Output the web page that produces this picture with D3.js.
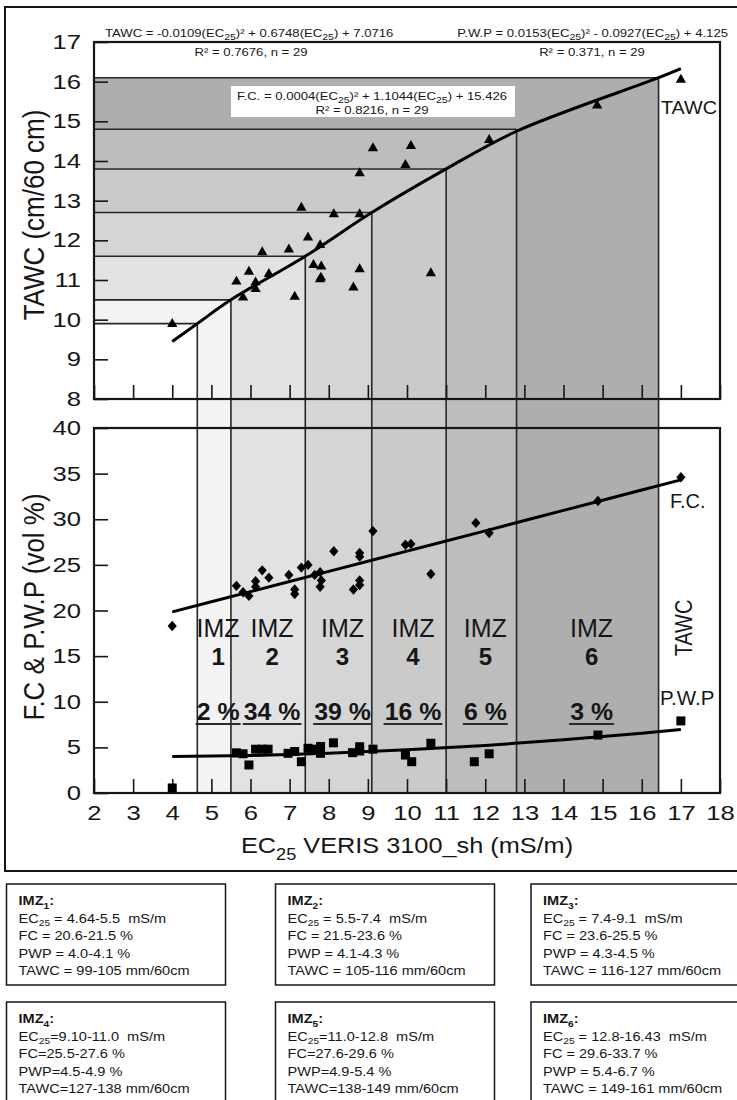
<!DOCTYPE html>
<html><head><meta charset="utf-8">
<script src="https://cdn.jsdelivr.net/npm/d3@7"></script>
<style>
body{margin:0;background:#fff}
svg{display:block}
text{font-family:"Liberation Sans",Arial,sans-serif;fill:#161616;white-space:pre}
</style>
</head><body>
<svg id="c" width="737" height="1100"></svg>
<script>
// ---------- DATA ----------
const xTickVals = [2,3,4,5,6,7,8,9,10,11,12,13,14,15,16,17,18];
const tawcTickVals = [8,9,10,11,12,13,14,15,16,17];
const fcTickVals = [0,5,10,15,20,25,30,35,40];

const zoneBounds = [4.64,5.5,7.4,9.1,11.0,12.8,16.43];
const zoneTawc   = [9.9,10.5,11.6,12.7,13.8,14.8,16.1];
const zoneNums   = ["1","2","3","4","5","6"];
const zoneShares = ["2 %","34 %","39 %","16 %","6 %","3 %"];

const tawcEC  = [4.0,5.64,5.81,5.96,6.13,6.13,6.30,6.47,6.98,7.13,7.30,7.47,7.61,7.78,7.81,7.78,7.80,8.13,8.63,8.79,8.79,8.79,9.13,9.96,10.10,10.61,12.10,14.86,17.0];
const tawcVal = [9.89,10.96,10.56,11.21,10.94,10.77,11.70,11.15,11.77,10.58,12.82,12.07,11.38,11.88,11.34,11.02,11.06,12.66,10.81,13.69,12.66,11.27,14.32,13.90,14.38,11.17,14.53,15.40,16.05];

const fcEC  = [4.0,5.64,5.81,5.96,6.13,6.13,6.30,6.47,6.98,7.13,7.13,7.30,7.47,7.64,7.78,7.81,7.78,8.13,8.63,8.79,8.79,8.79,8.79,9.13,9.96,10.10,10.61,11.76,12.10,14.88,17.0];
const fcVal = [18.3,22.7,22.0,21.6,23.2,22.6,24.4,23.6,23.9,21.8,22.3,24.7,25.0,23.9,24.2,23.3,22.6,26.5,22.3,26.3,25.9,23.3,22.8,28.7,27.2,27.3,24.0,29.6,28.5,32.0,34.6];

const pwpEC  = [4.0,5.64,5.81,5.96,6.13,6.30,6.45,6.96,7.13,7.30,7.47,7.64,7.79,7.79,8.12,8.61,8.79,8.79,9.13,9.96,10.12,10.61,11.72,12.10,14.88,17.0];
const pwpVal = [0.55,4.4,4.3,3.07,4.8,4.8,4.8,4.35,4.55,3.43,4.9,4.8,5.1,4.35,5.5,4.42,5.07,4.6,4.8,4.16,3.43,5.45,3.43,4.3,6.35,7.9];

const tawcFitEC  = [4,4.64,5.5,7.4,9.1,11.0,12.8,16.43,17];
const tawcFitVal = [9.45,9.9,10.5,11.6,12.7,13.8,14.75,16.1,16.33];
const fcFitEC  = [4,6,8,10,12,14,16,17];
const fcFitVal = [19.85,22.07,24.29,26.51,28.73,30.97,33.2,34.32];
const pwpFitEC  = [4,6,8,10,12,14,16,17];
const pwpFitVal = [4.0,4.11,4.36,4.73,5.21,5.83,6.56,6.97];

const boxTitles = ["1","2","3","4","5","6"];
const boxEC   = [" = 4.64-5.5  mS/m"," = 5.5-7.4  mS/m"," = 7.4-9.1  mS/m","=9.10-11.0  mS/m","=11.0-12.8  mS/m"," = 12.8-16.43  mS/m"];
const boxFC   = ["FC = 20.6-21.5 %","FC = 21.5-23.6 %","FC = 23.6-25.5 %","FC=25.5-27.6 %","FC=27.6-29.6 %","FC = 29.6-33.7 %"];
const boxPWP  = ["PWP = 4.0-4.1 %","PWP = 4.1-4.3 %","PWP = 4.3-4.5 %","PWP=4.5-4.9 %","PWP=4.9-5.4 %","PWP = 5.4-6.7 %"];
const boxTAWC = ["TAWC = 99-105 mm/60cm","TAWC = 105-116 mm/60cm","TAWC = 116-127 mm/60cm","TAWC=127-138 mm/60cm","TAWC=138-149 mm/60cm","TAWC = 149-161 mm/60cm"];

// ---------- STYLE ----------
const zoneFill = ["#f3f3f3","#e2e2e2","#d5d5d5","#cacaca","#bdbdbd","#aeaeae"];
const ink = "#161616";

const svg = d3.select("#c");
const x  = d3.scaleLinear().domain([2,18]).range([94,720]);
const yT = d3.scaleLinear().domain([8,17]).range([399,42]);
const yF = d3.scaleLinear().domain([0,40]).range([793,428]);

// text helper with subscript segments and stretch
function addText(parent, px, py, segs, o){
  o = Object.assign({size:12, sx:1, sy:1, anchor:"start", weight:"normal", rotate:0, subScale:0.72}, o||{});
  const g = parent.append("g").attr("transform",`translate(${px},${py}) rotate(${o.rotate}) scale(${o.sx},${o.sy})`);
  const t = g.append("text").attr("font-size",o.size).attr("text-anchor",o.anchor).attr("font-weight",o.weight)
    .attr("xml:space","preserve");
  if (typeof segs === "string") segs = [[segs]];
  let cur = 0;
  segs.forEach(s=>{
    const mode = s[1];
    const target = mode==="sub" ? 0.3*o.size : 0;
    const ts = t.append("tspan").text(s[0].replace(/  /g,"\u00a0 ")).attr("dy", target-cur);
    if (mode==="sub") ts.attr("font-size", o.size*o.subScale);
    if (s[2]) ts.attr("font-weight", s[2]);
    cur = target;
  });
  return {g, t};
}

// ---------- OUTER FRAME ----------
svg.append("rect").attr("x",5).attr("y",7).attr("width",740).attr("height",864)
  .attr("fill","#fff").attr("stroke",ink).attr("stroke-width",2);

// ---------- ZONE SHADING ----------
for (let k=zoneBounds.length-1; k>=0; k--){
  svg.append("rect")
    .attr("x", x(2)).attr("y", yT(zoneTawc[k]))
    .attr("width", x(zoneBounds[k])-x(2)).attr("height", yT(8)-yT(zoneTawc[k]))
    .attr("fill", k===0 ? "#ffffff" : zoneFill[k-1]);
}
for (let i=0;i<zoneNums.length;i++){
  svg.append("rect")
    .attr("x", x(zoneBounds[i])).attr("y", yT(8))
    .attr("width", x(zoneBounds[i+1])-x(zoneBounds[i])).attr("height", yF(0)-yT(8))
    .attr("fill", zoneFill[i]);
}
zoneBounds.forEach((b,k)=>{
  svg.append("line").attr("x1",x(b)).attr("x2",x(b)).attr("y1",yT(zoneTawc[k])).attr("y2",yF(0))
    .attr("stroke","#262626").attr("stroke-width",1.6);
  svg.append("line").attr("x1",x(2)).attr("x2",x(b)).attr("y1",yT(zoneTawc[k])).attr("y2",yT(zoneTawc[k]))
    .attr("stroke","#262626").attr("stroke-width",1.6);
});

// F.C. equation box
svg.append("rect").attr("x",231).attr("y",86).attr("width",284).attr("height",31).attr("fill","#fff");

// ---------- AXES ----------
function styleAxis(g, size, sx){
  g.attr("font-family",null).attr("font-size",null);
  g.select(".domain").remove();
  g.selectAll(".tick line").attr("stroke",ink).attr("stroke-width",1.6);
  g.selectAll(".tick text").attr("font-size",size).attr("fill",ink).attr("transform",`scale(${sx},1)`);
}
svg.append("g").attr("transform",`translate(0,${yT(8)})`)
  .call(d3.axisBottom(x).tickValues(xTickVals).tickSizeInner(-14).tickSizeOuter(0).tickFormat(()=>""))
  .call(g=>styleAxis(g,20,1.25));
svg.append("g").attr("transform",`translate(${x(2)},0)`)
  .call(d3.axisLeft(yT).tickValues(tawcTickVals).tickSizeInner(-14).tickSizeOuter(0).tickPadding(10.4).tickFormat(d3.format("d")))
  .call(g=>styleAxis(g,20.5,1.25));
svg.append("g").attr("transform",`translate(0,${yF(0)})`)
  .call(d3.axisBottom(x).tickValues(xTickVals).tickSizeInner(-14).tickSizeOuter(0).tickPadding(12).tickFormat(d3.format("d")))
  .call(g=>styleAxis(g,20.5,1.25));
svg.append("g").attr("transform",`translate(${x(2)},0)`)
  .call(d3.axisLeft(yF).tickValues(fcTickVals).tickSizeInner(-14).tickSizeOuter(0).tickPadding(10.4).tickFormat(d3.format("d")))
  .call(g=>styleAxis(g,20.5,1.25));

svg.append("rect").attr("x",x(2)).attr("y",yT(17)).attr("width",x(18)-x(2)).attr("height",yT(8)-yT(17))
  .attr("fill","none").attr("stroke",ink).attr("stroke-width",2.2);
svg.append("rect").attr("x",x(2)).attr("y",yF(40)).attr("width",x(18)-x(2)).attr("height",yF(0)-yF(40))
  .attr("fill","none").attr("stroke",ink).attr("stroke-width",2.2);

// ---------- FIT LINES ----------
svg.append("path").datum(tawcFitEC)
  .attr("d", d3.line().x(d=>x(d)).y((d,i)=>yT(tawcFitVal[i])).curve(d3.curveCatmullRom.alpha(0.5)))
  .attr("fill","none").attr("stroke","#000").attr("stroke-width",3);
svg.append("path").datum(fcFitEC)
  .attr("d", d3.line().x(d=>x(d)).y((d,i)=>yF(fcFitVal[i])).curve(d3.curveMonotoneX))
  .attr("fill","none").attr("stroke","#000").attr("stroke-width",3);
svg.append("path").datum(pwpFitEC)
  .attr("d", d3.line().x(d=>x(d)).y((d,i)=>yF(pwpFitVal[i])).curve(d3.curveMonotoneX))
  .attr("fill","none").attr("stroke","#000").attr("stroke-width",3);

// ---------- MARKERS ----------
svg.append("g").selectAll("path").data(tawcEC).join("path")
  .attr("transform",(d,i)=>`translate(${x(d)},${yT(tawcVal[i])})`)
  .attr("d", d3.symbol(d3.symbolTriangle, 46)).attr("fill","#000");
svg.append("g").selectAll("path").data(fcEC).join("path")
  .attr("transform",(d,i)=>`translate(${x(d)},${yF(fcVal[i])})`)
  .attr("d","M0,-5.2L4.6,0L0,5.2L-4.6,0Z").attr("fill","#000");
svg.append("g").selectAll("rect").data(pwpEC).join("rect")
  .attr("x",d=>x(d)-4.5).attr("y",(d,i)=>yF(pwpVal[i])-4.5)
  .attr("width",9).attr("height",9).attr("fill","#000");

// ---------- EQUATIONS ----------
const eqO = {size:10.5, sx:1.25, subScale:0.8};
addText(svg,105,37,[["TAWC = -0.0109(EC"],["25","sub"],[")² + 0.6748(EC"],["25","sub"],[") + 7.0716"]],eqO);
addText(svg,251,56,"R² = 0.7676, n = 29",Object.assign({},eqO,{anchor:"middle"}));
addText(svg,728,37,[["P.W.P = 0.0153(EC"],["25","sub"],[")² - 0.0927(EC"],["25","sub"],[") + 4.125"]],Object.assign({},eqO,{anchor:"end"}));
addText(svg,592,56,"R² = 0.371, n = 29",Object.assign({},eqO,{anchor:"middle"}));
addText(svg,372,100,[["F.C. = 0.0004(EC"],["25","sub"],[")² + 1.1044(EC"],["25","sub"],[") + 15.426"]],Object.assign({},eqO,{anchor:"middle"}));
addText(svg,372,114,"R² = 0.8216, n = 29",Object.assign({},eqO,{anchor:"middle"}));

// ---------- AXIS TITLES ----------
addText(svg,44,215,"TAWC (cm/60 cm)",{size:26, anchor:"middle", rotate:-90, sy:1.15});
addText(svg,44,607,"F.C & P.W.P (vol %)",{size:26, anchor:"middle", rotate:-90, sy:1.15});
addText(svg,(x(2)+x(18))/2,853,[["EC"],["25","sub"],[" VERIS 3100_sh (mS/m)"]],{size:22, sx:1.15, anchor:"middle"});

// ---------- SIDE LABELS ----------
addText(svg,661,114,"TAWC",{size:18, sx:1.1});
addText(svg,670,508,"F.C.",{size:20});
addText(svg,692,628,"TAWC",{size:20, anchor:"middle", rotate:-90, sy:1.2});
addText(svg,660,705,"P.W.P",{size:20.5});

// ---------- ZONE LABELS ----------
zoneNums.forEach((n,i)=>{
  const cx = (x(zoneBounds[i])+x(zoneBounds[i+1]))/2 + 4;
  addText(svg,cx,637,"IMZ",{size:25, anchor:"middle"});
  addText(svg,cx,665,n,{size:24, anchor:"middle", weight:"bold"});
  const r = addText(svg,cx,720,zoneShares[i],{size:23, sx:1.08, anchor:"middle", weight:"bold"});
  const bb = r.t.node().getBBox();
  r.g.append("line").attr("x1",bb.x-1).attr("x2",bb.x+bb.width+1).attr("y1",4).attr("y2",4)
    .attr("stroke","#2a2a2a").attr("stroke-width",1.8);
});

// ---------- INFO BOXES ----------
const colX = [6.5,275.5,531];
const rowY = [884,1002];
boxTitles.forEach((n,i)=>{
  const bx = colX[i%3], by = rowY[Math.floor(i/3)];
  const w = (i%3===2) ? 230 : 219;
  svg.append("rect").attr("x",bx).attr("y",by).attr("width",w).attr("height",101)
    .attr("fill","#fff").attr("stroke",ink).attr("stroke-width",1.5);
  const tx = bx+12, o = {size:13, sx:1.12, subScale:0.7};
  addText(svg,tx,by+21,[["IMZ",null,"bold"],[n,"sub","bold"],[":",null,"bold"]],o);
  addText(svg,tx,by+38.5,[["EC"],["25","sub"],[boxEC[i]]],o);
  addText(svg,tx,by+56,boxFC[i],o);
  addText(svg,tx,by+73.5,boxPWP[i],o);
  addText(svg,tx,by+91,boxTAWC[i],o);
});
</script>
</body></html>
